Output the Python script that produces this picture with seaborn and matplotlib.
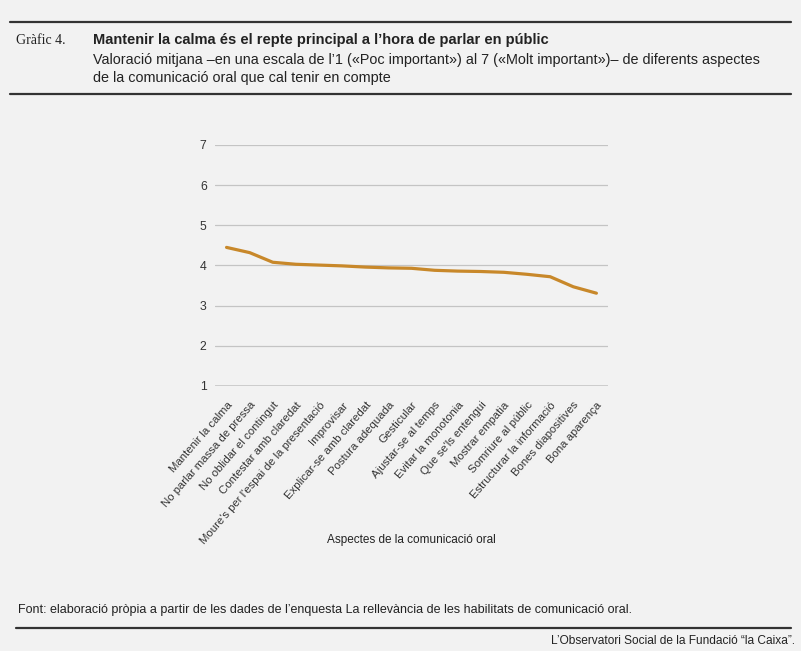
import numpy as np
import pandas as pd
import matplotlib
matplotlib.use("Agg")
import matplotlib.pyplot as plt
import seaborn as sns

# dades
aspectes = [
    "Mantenir la calma", "No parlar massa de pressa", "No oblidar el contingut",
    "Contestar amb claredat", "Moure's per l'espai de la presentació", "Improvisar",
    "Explicar-se amb claredat", "Postura adequada", "Gesticular",
    "Ajustar-se al temps", "Evitar la monotonia", "Que se'ls entengui",
    "Mostrar empatia", "Somriure al públic", "Estructurar la informació",
    "Bones diapositives", "Bona aparença",
]
valors = [4.45, 4.32, 4.08, 4.03, 4.01, 3.99, 3.96, 3.94, 3.93, 3.88,
          3.86, 3.85, 3.83, 3.78, 3.72, 3.47, 3.31]
yticks = [1, 2, 3, 4, 5, 6, 7]

titol = "Mantenir la calma és el repte principal a l’hora de parlar en públic"
subtitol = ("Valoració mitjana –en una escala de l’1 («Poc important») al 7 («Molt important»)– de diferents aspectes\n"
            "de la comunicació oral que cal tenir en compte")
font_txt = "Font: elaboració pròpia a partir de les dades de l’enquesta La rellevància de les habilitats de comunicació oral."
peu = "L’Observatori Social de la Fundació “la Caixa”."

sns.set_theme(style="white")
plt.rcParams['font.family'] = ['Liberation Sans', 'DejaVu Sans']

bg = "#f2f2f2"
fig = plt.figure(figsize=(8.01, 6.51), dpi=100, facecolor=bg)
ax = fig.add_axes([0.2684, 0.4071, 0.4906, 0.3702], facecolor=bg)

df = pd.DataFrame({"aspecte": aspectes, "valor": valors})
n = len(df)
sns.lineplot(data=df, x="aspecte", y="valor", sort=False, color="#c8882a",
             linewidth=2.3, ax=ax)

ax.set_ylim(1, 7)
ax.set_xlim(-0.5, n - 0.5)
ax.set_yticks(yticks)
ax.yaxis.grid(True, color="#c4c4c4", linewidth=0.9)
ax.set_axisbelow(True)
for s in ax.spines.values():
    s.set_visible(False)
ax.axhline(1, color="#c4c4c4", linewidth=1.8, zorder=0)
ax.tick_params(axis="both", length=0, labelsize=8.8, colors="#333333")
ax.tick_params(axis="y", pad=6)
ax.tick_params(axis="x", pad=10)
ax.set_xticks(range(n))
ax.set_xticklabels(df["aspecte"], rotation=49, ha="right", rotation_mode="anchor",
                   fontsize=8.2, color="#333333")
ax.set_xlabel("Aspectes de la comunicació oral", fontsize=8.5, color="#222222", va="center")
ax.xaxis.set_label_coords(0.5, -154/241)
ax.set_ylabel("")

# capçalera
fig.add_artist(plt.Line2D([0.012, 0.988], [1 - 22/651, 1 - 22/651], color="#333333", linewidth=1.6))
fig.add_artist(plt.Line2D([0.012, 0.988], [1 - 94/651, 1 - 94/651], color="#333333", linewidth=1.6))
fig.text(16/801, 1 - 40/651, "Gràfic 4.", fontsize=10, family=['Liberation Serif', 'DejaVu Serif'],
         color="#222222", va="center")
fig.text(93/801, 1 - 40/651, titol, fontsize=10.5, fontweight="bold",
         family=['Liberation Sans Narrow', 'Liberation Sans', 'DejaVu Sans'], color="#222222", va="center")
fig.text(93/801, 1 - 69/651, subtitol, fontsize=10.4, color="#222222", va="center", linespacing=1.3)

# peu
fig.text(18/801, 1 - 610/651, font_txt, fontsize=9, color="#222222", va="center")
fig.add_artist(plt.Line2D([0.02, 0.988], [1 - 628/651, 1 - 628/651], color="#333333", linewidth=1.6))
fig.text(795/801, 1 - 641/651, peu, fontsize=8.6, color="#222222", va="center", ha="right")

fig.savefig("out.png", dpi=100, facecolor=bg)
